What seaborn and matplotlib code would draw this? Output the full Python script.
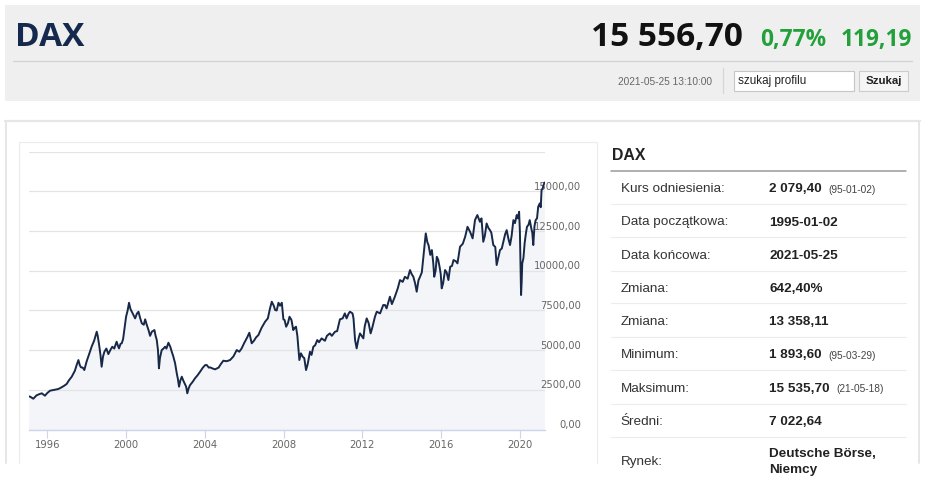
import matplotlib
matplotlib.use("Agg")
import matplotlib.pyplot as plt
import matplotlib.transforms as mtransforms
from matplotlib.patches import Rectangle
from matplotlib.lines import Line2D
import pandas as pd
import seaborn as sns

# DAX closing level: decimal year -> index points
years = [
    1995.05, 1995.15, 1995.29, 1995.45, 1995.6, 1995.72, 1995.88, 1996.0, 1996.14, 1996.35,
    1996.56, 1996.7, 1996.85, 1996.98, 1997.1, 1997.24, 1997.4, 1997.5, 1997.58, 1997.65,
    1997.71, 1997.8, 1997.88, 1998.0, 1998.08, 1998.18, 1998.25, 1998.38, 1998.45, 1998.51,
    1998.56, 1998.62, 1998.7, 1998.76, 1998.83, 1998.9, 1999.0, 1999.1, 1999.2, 1999.3,
    1999.4, 1999.52, 1999.58, 1999.64, 1999.72, 1999.78, 1999.85, 1999.91, 2000.0, 2000.08,
    2000.15, 2000.22, 2000.29, 2000.38, 2000.46, 2000.55, 2000.63, 2000.72, 2000.8, 2000.9,
    2000.97, 2001.05, 2001.14, 2001.22, 2001.31, 2001.44, 2001.5, 2001.56, 2001.62, 2001.67,
    2001.72, 2001.81, 2001.9, 2001.98, 2002.05, 2002.15, 2002.25, 2002.32, 2002.4, 2002.49,
    2002.58, 2002.63, 2002.69, 2002.76, 2002.83, 2002.9, 2002.97, 2003.05, 2003.11, 2003.18,
    2003.25, 2003.38, 2003.5, 2003.62, 2003.76, 2003.9, 2004.02, 2004.1, 2004.2, 2004.27,
    2004.38, 2004.52, 2004.7, 2004.8, 2004.94, 2005.1, 2005.28, 2005.45, 2005.62, 2005.75,
    2005.87, 2006.0, 2006.15, 2006.26, 2006.38, 2006.5, 2006.6, 2006.72, 2006.88, 2007.06,
    2007.2, 2007.31, 2007.4, 2007.5, 2007.57, 2007.65, 2007.74, 2007.82, 2007.91, 2007.99,
    2008.05, 2008.13, 2008.22, 2008.3, 2008.4, 2008.49, 2008.56, 2008.63, 2008.7, 2008.75,
    2008.8, 2008.88, 2008.97, 2009.05, 2009.14, 2009.22, 2009.34, 2009.42, 2009.51, 2009.6,
    2009.71, 2009.8, 2009.93, 2010.1, 2010.2, 2010.35, 2010.45, 2010.61, 2010.72, 2010.86,
    2011.0, 2011.11, 2011.2, 2011.3, 2011.37, 2011.5, 2011.55, 2011.63, 2011.71, 2011.8,
    2011.88, 2012.05, 2012.12, 2012.22, 2012.32, 2012.42, 2012.5, 2012.64, 2012.73, 2012.9,
    2013.06, 2013.15, 2013.23, 2013.4, 2013.5, 2013.65, 2013.8, 2013.91, 2014.05, 2014.16,
    2014.3, 2014.42, 2014.5, 2014.59, 2014.68, 2014.76, 2014.85, 2014.93, 2015.02, 2015.1,
    2015.16, 2015.22, 2015.3, 2015.36, 2015.45, 2015.53, 2015.6, 2015.65, 2015.72, 2015.78,
    2015.85, 2015.92, 2015.98, 2016.03, 2016.1, 2016.2, 2016.28, 2016.37, 2016.46, 2016.55,
    2016.63, 2016.75, 2016.83, 2016.96, 2017.1, 2017.22, 2017.34, 2017.47, 2017.6, 2017.72,
    2017.84, 2017.97, 2018.05, 2018.14, 2018.22, 2018.31, 2018.4, 2018.48, 2018.55, 2018.65,
    2018.75, 2018.82, 2018.9, 2018.99, 2019.08, 2019.16, 2019.25, 2019.33, 2019.42, 2019.5,
    2019.58, 2019.67, 2019.75, 2019.84, 2019.9, 2019.96, 2020.0, 2020.03, 2020.06, 2020.09,
    2020.12, 2020.18, 2020.24, 2020.3, 2020.36, 2020.44, 2020.5, 2020.58, 2020.63, 2020.68,
    2020.74, 2020.8, 2020.87, 2020.93, 2021.01, 2021.06, 2021.1, 2021.16, 2021.2, 2021.25,
]
levels = [
    2100, 2050, 1940, 2150, 2230, 2280, 2130, 2300, 2445, 2500,
    2550, 2640, 2750, 2865, 3100, 3325, 3700, 4100, 4375, 4050,
    3915, 3900, 3745, 4300, 4585, 4950, 5215, 5600, 5900, 6160,
    5900, 5430, 4700, 3955, 4600, 4900, 5100, 4750, 5000, 5215,
    5100, 5530, 5300, 5110, 5400, 5430, 5700, 6265, 7105, 7500,
    7985, 7600, 7420, 7200, 7000, 7300, 7420, 7000, 6690, 6600,
    6940, 6600, 6265, 5900, 6160, 6265, 5900, 5635, 5000, 3855,
    4500, 5005, 5100, 5215, 5100, 5465, 5200, 4900, 4600, 4170,
    3500, 3200, 2695, 3100, 3325, 3100, 2910, 2700, 2280, 2600,
    2800, 3000, 3225, 3400, 3640, 3900, 4060, 4060, 3900, 3915,
    3850, 3790, 3900, 4100, 4335, 4300, 4375, 4600, 5005, 4900,
    5110, 5450, 5800, 6095, 5430, 5600, 5800, 5950, 6400, 6790,
    7000, 7630, 8050, 7800, 7525, 7500, 7985, 7800, 7985, 6940,
    6900, 6475, 6700, 7105, 6900, 6265, 6400, 6475, 5900, 5110,
    4375, 4800, 4585, 4500, 3745, 4100, 4900, 4700, 5215, 5300,
    5635, 5500, 5740, 5590, 5900, 6055, 5900, 6160, 6200, 6940,
    7000, 7315, 7000, 7300, 7420, 7315, 7000, 5635, 5110, 5700,
    6055, 5740, 6500, 7000, 6700, 6055, 6400, 7105, 7420, 7315,
    7840, 7840, 7630, 8365, 7900, 8365, 8900, 9415, 9300, 9620,
    9500, 10045, 9800, 9620, 9200, 8680, 9400, 9620, 9900, 10880,
    11600, 12355, 11800, 11620, 11000, 11305, 10500, 9620, 10000, 10880,
    10700, 10255, 9800, 8890, 9200, 10045, 9900, 9415, 10255, 10300,
    10675, 10600, 10465, 11510, 11700, 12140, 12770, 12455, 12040, 13190,
    13510, 13085, 13300, 11825, 12200, 12980, 12700, 12560, 12400, 11620,
    11500, 10360, 10800, 11305, 11400, 11825, 12300, 12560, 12000, 11620,
    12200, 13190, 13000, 13510, 13300, 13715, 12500, 10500, 8470, 9300,
    10465, 10800, 11725, 12300, 12770, 12900, 13190, 12665, 12400, 11620,
    12800, 13190, 13300, 14030, 14245, 14000, 15080, 15200, 15395, 15556,
]

x_ticks = [1996, 2000, 2004, 2008, 2012, 2016, 2020]
y_ticks = [0, 2500, 5000, 7500, 10000, 12500, 15000]
grid_levels = [0, 2500, 5000, 7500, 10000, 12500, 15000, 17500]

quote_name = "DAX"
quote_last = "15 556,70"
quote_pct = "0,77%"
quote_chg = "119,19"
quote_time = "2021-05-25 13:10:00"

row_labels = ["Kurs odniesienia:", "Data początkowa:", "Data końcowa:", "Zmiana:", "Zmiana:",
              "Minimum:", "Maksimum:", "Średni:", "Rynek:"]
row_values = ["2 079,40", "1995-01-02", "2021-05-25", "642,40%", "13 358,11",
              "1 893,60", "15 535,70", "7 022,64", "Deutsche Börse,\nNiemcy"]
row_notes = ["(95-01-02)", "", "", "", "", "(95-03-29)", "(21-05-18)", "", ""]

W, H = 948, 483
GREEN = "#22a03a"
NAVY = "#14294d"

sns.set_theme(style="white")
plt.rcParams["font.family"] = ["Liberation Sans", "DejaVu Sans"]

fig = plt.figure(figsize=(W / 100, H / 100), dpi=100)
fig.patch.set_facecolor("white")


def fx(x):
    return x / W


def fy(y):
    return 1 - y / H


def line(x0, y0, x1, y1, color, lw=0.72):
    fig.add_artist(Line2D([fx(x0), fx(x1)], [fy(y0), fy(y1)], transform=fig.transFigure,
                          color=color, lw=lw))


def box(x0, y0, x1, y1, fc, ec="none", lw=0.0):
    fig.add_artist(Rectangle((fx(x0), fy(y1)), fx(x1) - fx(x0), fy(y0) - fy(y1),
                             transform=fig.transFigure, fc=fc, ec=ec, lw=lw))


def txt(x, y, s, **kw):
    return fig.text(fx(x), fy(y), s, **kw)


# --- header bar ---
box(5, 5, 920, 101, "#efefef")
line(13, 60.5, 912, 60.5, "#d2d2d2", 0.9)
txt(15, 45.5, quote_name, fontsize=24, fontweight="bold", color=NAVY,
    family=["Open Sans", "DejaVu Sans"], va="baseline")
txt(743, 45.7, quote_last, fontsize=24, fontweight="bold", color="#111111",
    family=["Open Sans", "DejaVu Sans"], ha="right", va="baseline")
txt(760, 45.7, quote_pct, fontsize=16.3, fontweight="bold", color=GREEN,
    family=["Open Sans", "DejaVu Sans"], va="baseline")
txt(911.7, 45.7, quote_chg, fontsize=16.3, fontweight="bold", color=GREEN,
    family=["Open Sans", "DejaVu Sans"], ha="right", va="baseline")
txt(712.3, 81.7, quote_time, fontsize=7.3, color="#666666", ha="right", va="center")
line(722.7, 68.3, 722.7, 93.3, "#d6d6d6", 0.9)
box(734.3, 70.7, 854, 91, "white", "#c6c6c6", 0.8)
txt(738.3, 81, "szukaj profilu", fontsize=8.4, color="#222222", va="center")
box(859.3, 70.7, 908.3, 91, "#f5f5f5", "#cccccc", 0.8)
txt(883.8, 81, "Szukaj", fontsize=8.2, fontweight="bold", color="#222222", ha="center", va="center")

# --- content panel frames ---
line(5, 121, 920, 121, "#e6e6e6", 1.6)
line(5.5, 121, 5.5, 463, "#e6e6e6", 1.4)
line(919, 121, 919, 463, "#e6e6e6", 1.4)
line(19, 142, 597, 142, "#ececec", 0.8)
line(19, 142, 19, 463, "#ececec", 0.8)
line(597, 142, 597, 463, "#ececec", 0.8)

# --- chart ---
ax = fig.add_axes([fx(28.5), fy(429.5), (544.5 - 28.5) / W, (429.5 - 151.7) / H])
ax.set_facecolor("none")
df = pd.DataFrame({"year": years, "level": levels})
ax.fill_between(df["year"], df["level"], 0, color="#f4f5f8", lw=0, zorder=0.2)
sns.lineplot(data=df, x="year", y="level", ax=ax, color="#172848", lw=1.4, zorder=3)
ax.set_xlim(1995.045, 2021.25)
ax.set_ylim(0, 17500)
ax.set_axisbelow(True)
ax.set_yticks(grid_levels)
ax.grid(axis="y", color="#e4e4e4", lw=0.9)
ax.grid(axis="x", visible=False)
ax.tick_params(axis="y", length=0, labelleft=False, labelright=False)
ax.set_xticks(x_ticks)
ax.set_xticklabels([str(t) for t in x_ticks], family="DejaVu Sans")
ax.tick_params(axis="x", direction="out", length=5.8, width=0.8, color="#ccd6eb",
               labelsize=7.2, labelcolor="#666666", pad=1.5, bottom=True)
for side in ["top", "left", "right"]:
    ax.spines[side].set_visible(False)
ax.spines["bottom"].set_color("#ccd6eb")
ax.spines["bottom"].set_linewidth(1.0)
ax.set_xlabel("")
ax.set_ylabel("")

ylab_tr = mtransforms.offset_copy(ax.get_yaxis_transform(), fig=fig, x=0, y=1.5, units="dots")
lab_x = (581 - 28.5) / (544.5 - 28.5)
for v in y_ticks:
    ax.text(lab_x, v, f"{v:.2f}".replace(".", ","), transform=ylab_tr, ha="right",
            va="baseline", fontsize=7.2, color="#666666", family="DejaVu Sans",
            zorder=2, clip_on=False)

# --- summary table ---
txt(611.7, 155.5, quote_name, fontsize=11.4, fontweight="bold", color="#222222", va="center")
line(610.7, 170.7, 906, 170.7, "#9a9a9a", 1.1)
for yy in [204, 237.3, 270.7, 303.3, 336.7, 370, 404, 436.7]:
    line(610.7, yy, 906, yy, "#ececec", 0.8)

row_y = [189.3 + 33.2 * i for i in range(8)] + [462]
renderer = fig.canvas.get_renderer()
for lab, val, note, yy in zip(row_labels, row_values, row_notes, row_y):
    txt(620.7, yy, lab, fontsize=9.7, color="#333333", va="center")
    t = txt(769, yy, val, fontsize=9.7, fontweight="bold", color="#222222", va="center",
            linespacing=1.35)
    if note:
        bb = t.get_window_extent(renderer=renderer)
        txt(bb.x1 + 7, yy + 0.5, note, fontsize=7.3, color="#444444", va="center")

fig.savefig("out.png", dpi=100)
